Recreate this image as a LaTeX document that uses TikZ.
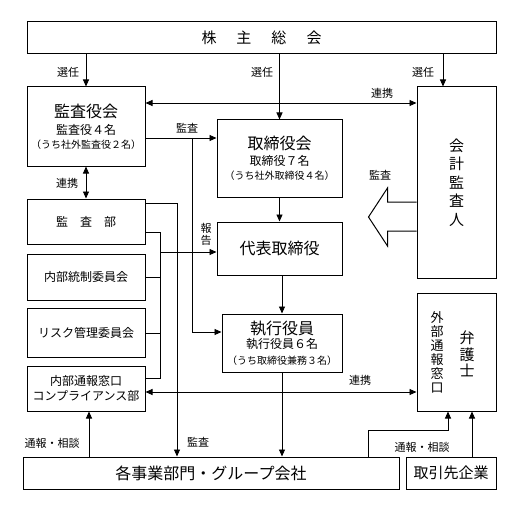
\documentclass[tikz,border=0pt]{standalone}
\usepackage{fontspec}
\setmainfont{Noto Sans CJK JP}
\usetikzlibrary{arrows.meta}

\newcommand{\szL}{\fontsize{16}{19}\selectfont}
\newcommand{\szM}{\fontsize{12}{15}\selectfont}
\newcommand{\szS}{\fontsize{10}{13}\selectfont}

\tikzset{
  box/.style={draw, line width=1pt, inner sep=0pt, align=center},
  arr/.style={line width=0.9pt, -{Triangle[length=7pt,width=6pt]}},
  dbl/.style={line width=0.9pt, {Triangle[length=7pt,width=6pt]}-{Triangle[length=7pt,width=6pt]}},
  lnk/.style={line width=0.9pt},
  lbl/.style={inner sep=0pt, font=\fontsize{11}{12}\selectfont},
}

\begin{document}
\begin{tikzpicture}[x=1pt,y=1pt,yscale=-1]
  \useasboundingbox (0,0) rectangle (514,508);

  % Boxes
  \node[box, minimum width=469, minimum height=32] (kabu) at (261.5,38) {\fontsize{15}{18}\selectfont 株\hspace{20pt}主\hspace{20pt}総\hspace{20pt}会};
  \node[box, minimum width=118, minimum height=79] (kansayaku) at (86,126.5) {\szL 監査役会\\[5pt]\szM 監査役４名\\[2pt]\szS （うち社外監査役２名）};
  \node[box, minimum width=125, minimum height=77] (torikai) at (279.5,158.5) {\szL 取締役会\\[4pt]\szM 取締役７名\\[2pt]\szS （うち社外取締役４名）};
  \node[box, minimum width=79, minimum height=191, font=\fontsize{15}{18.5}\selectfont] (kaikei) at (456.5,182.5) {会\\計\\監\\査\\人};
  \node[box, minimum width=125, minimum height=53] (daihyo) at (279.5,248.5) {\szL 代表取締役};
  \node[box, minimum width=120, minimum height=58] (shikko) at (282,343) {\szL 執行役員\\[2pt]\szM 執行役員６名\\[4pt]\szS （うち取締役兼務３名）};
  \node[box, minimum width=118, minimum height=45] (kansabu) at (86,221.5) {\szM 監\hspace{12pt}査\hspace{12pt}部};
  \node[box, minimum width=118, minimum height=46] (tousei) at (86,277) {\szM 内部統制委員会};
  \node[box, minimum width=118, minimum height=49] (risk) at (86,332.5) {\szM リスク管理委員会};
  \node[box, minimum width=118, minimum height=45, font=\szM] (madoguchi) at (86,388.5) {内部通報窓口\\コンプライアンス部};
  \node[box, minimum width=79, minimum height=118] (gaibu) at (456.5,352) {};
  \node[inner sep=0pt, align=center, font=\fontsize{13}{14}\selectfont] (gaibutxt) at (437,352.5) {外\\部\\通\\報\\窓\\口};
  \node[inner sep=0pt, align=center, font=\fontsize{15}{16.5}\selectfont] (bengoshi) at (467,354) {弁\\護\\士};
  \node[box, minimum width=376, minimum height=32] (jigyo) at (211,473) {\szL 各事業部門・グループ会社};
  \node[box, minimum width=90, minimum height=32] (torihiki) at (451,473) {\fontsize{15}{18}\selectfont 取引先企業};

  % Labels
  \node[lbl] (sen1) at (68,72) {選任};
  \node[lbl] (sen2) at (262,72) {選任};
  \node[lbl] (sen3) at (423,72) {選任};
  \node[lbl] (ren1) at (382,93) {連携};
  \node[lbl] (kan1) at (187,128) {監査};
  \node[lbl] (ren2) at (67,183) {連携};
  \node[lbl, align=center] (hou) at (206,234) {報\\告};
  \node[lbl] (kan2) at (380,175) {監査};
  \node[lbl] (ren3) at (360,380) {連携};
  \node[lbl] (tsu1) at (52,443) {通報・相談};
  \node[lbl] (tsu2) at (422,447) {通報・相談};
  \node[lbl] (kan3) at (198,442) {監査};

  % Connectors
  \draw[arr] (kabu.south -| kansayaku.north) -- (kansayaku.north);
  \draw[arr] (kabu.south -| torikai.north) -- (torikai.north);
  \draw[arr] (kabu.south -| 443,0) -- (kaikei.north -| 443,0);
  \draw[dbl] (kansayaku.east |- 0,103) -- (kaikei.west |- 0,103);
  \draw[arr] (kansayaku.east |- 0,138) -- (torikai.west |- 0,138);
  \coordinate (kansa1) at (192,138);
  \draw[arr] (kansa1) |- (shikko.west |- 0,332);
  \draw[dbl] (kansayaku.south) -- (kansabu.north);
  \draw[arr] (torikai.south) -- (daihyo.north);
  \draw[arr] (daihyo.south -| shikko.north) -- (shikko.north);
  \draw[arr] (shikko.south) -- (jigyo.north -| shikko.south);
  \draw[arr] (kansabu.east |- 0,203) -| (jigyo.north -| 177,0);

  % report lines
  \coordinate (hokoku) at (160,252);
  \draw[lnk] (kansabu.east |- 0,232) -| (160,378) -- (madoguchi.east |- 0,378);
  \draw[lnk] (tousei.east) -- (tousei.east -| hokoku);
  \draw[lnk] (risk.east |- 0,333) -- (160,333);
  \draw[arr] (hokoku) -- (daihyo.west |- hokoku);

  \draw[dbl] (madoguchi.east |- 0,392) -- (gaibu.west |- 0,392);
  \draw[arr] (jigyo.north -| 89,0) -- (madoguchi.south -| 89,0);
  \draw[arr] (jigyo.north -| 368,0) |- (448,430) -- (gaibu.south -| 448,0);
  \draw[arr] (torihiki.north -| 472,0) -- (gaibu.south -| 472,0);

  % hollow arrow
  \draw[line width=1pt] (kaikei.west |- 0,202) -- ++(-29,0) -- ++(0,-14) -- ++(-19,29) -- ++(19,29) -- ++(0,-15) -- (kaikei.west |- 0,231);
\end{tikzpicture}
\end{document}
